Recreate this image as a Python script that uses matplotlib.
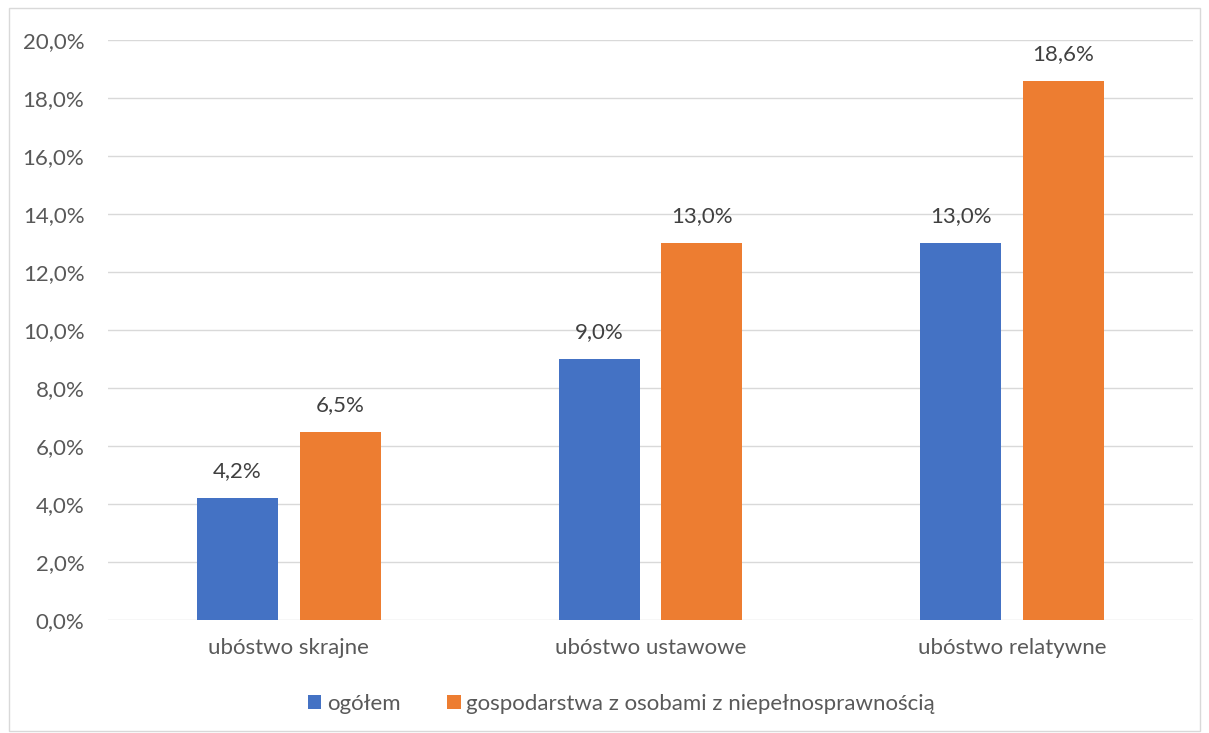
import matplotlib
matplotlib.use("Agg")
import matplotlib.pyplot as plt
import numpy as np
from matplotlib.patches import Rectangle

categories = ["ubóstwo skrajne", "ubóstwo ustawowe", "ubóstwo relatywne"]
series_names = ["ogółem", "gospodarstwa z osobami z niepełnosprawnością"]
ogolem = [4.2, 9.0, 13.0]
niepelnosprawni = [6.5, 13.0, 18.6]
yticks = [0, 2, 4, 6, 8, 10, 12, 14, 16, 18, 20]

BLUE = "#4472C4"
ORANGE = "#ED7D31"
TEXT = "#595959"
GRID = "#D9D9D9"

plt.rcParams["font.family"] = ["Lato", "DejaVu Sans"]
FS = 16


def pct(v):
    return f"{v:.1f}%".replace(".", ",")


fig = plt.figure(figsize=(12.09, 7.33), dpi=100)
ax = fig.add_axes([0.0893, 0.1541, 0.8975, 0.7913])

x = np.arange(len(categories))
width = 0.224
offset = 0.142

bars_a = ax.bar(x - offset, ogolem, width, color=BLUE, label=series_names[0], zorder=3)
bars_b = ax.bar(x + offset, niepelnosprawni, width, color=ORANGE, label=series_names[1], zorder=3)

for bars, vals in ((bars_a, ogolem), (bars_b, niepelnosprawni)):
    for b, v in zip(bars, vals):
        ax.annotate(pct(v), (b.get_x() + b.get_width() / 2, v),
                    xytext=(0, 12), textcoords="offset points",
                    ha="center", va="bottom", fontsize=FS, color="#404040")

ax.set_xlim(-0.5, 2.5)
ax.set_ylim(0, 20)
ax.set_yticks(yticks)
ax.set_yticklabels([pct(v) for v in yticks], fontsize=FS, color=TEXT)
ax.set_xticks(x)
ax.set_xticklabels(categories, fontsize=FS, color=TEXT)
ax.tick_params(axis="both", length=0)
ax.tick_params(axis="y", pad=17)
ax.tick_params(axis="x", pad=13)
ax.grid(axis="y", color=GRID, linewidth=1.0, zorder=0)
for s in ax.spines.values():
    s.set_visible(False)

fig.legend(handles=[bars_a, bars_b], labels=series_names, loc="center",
           bbox_to_anchor=(0.514, 0.04), ncol=2, frameon=False, fontsize=FS,
           handlelength=0.6, handleheight=0.6, handletextpad=0.25,
           columnspacing=2.1, labelcolor=TEXT)

# outer chart frame
fig.patches.append(Rectangle((0.0074, 0.003), 0.9853, 0.9863, transform=fig.transFigure,
                             fill=False, edgecolor=GRID, linewidth=1.0))

fig.savefig("out.png", dpi=100)
